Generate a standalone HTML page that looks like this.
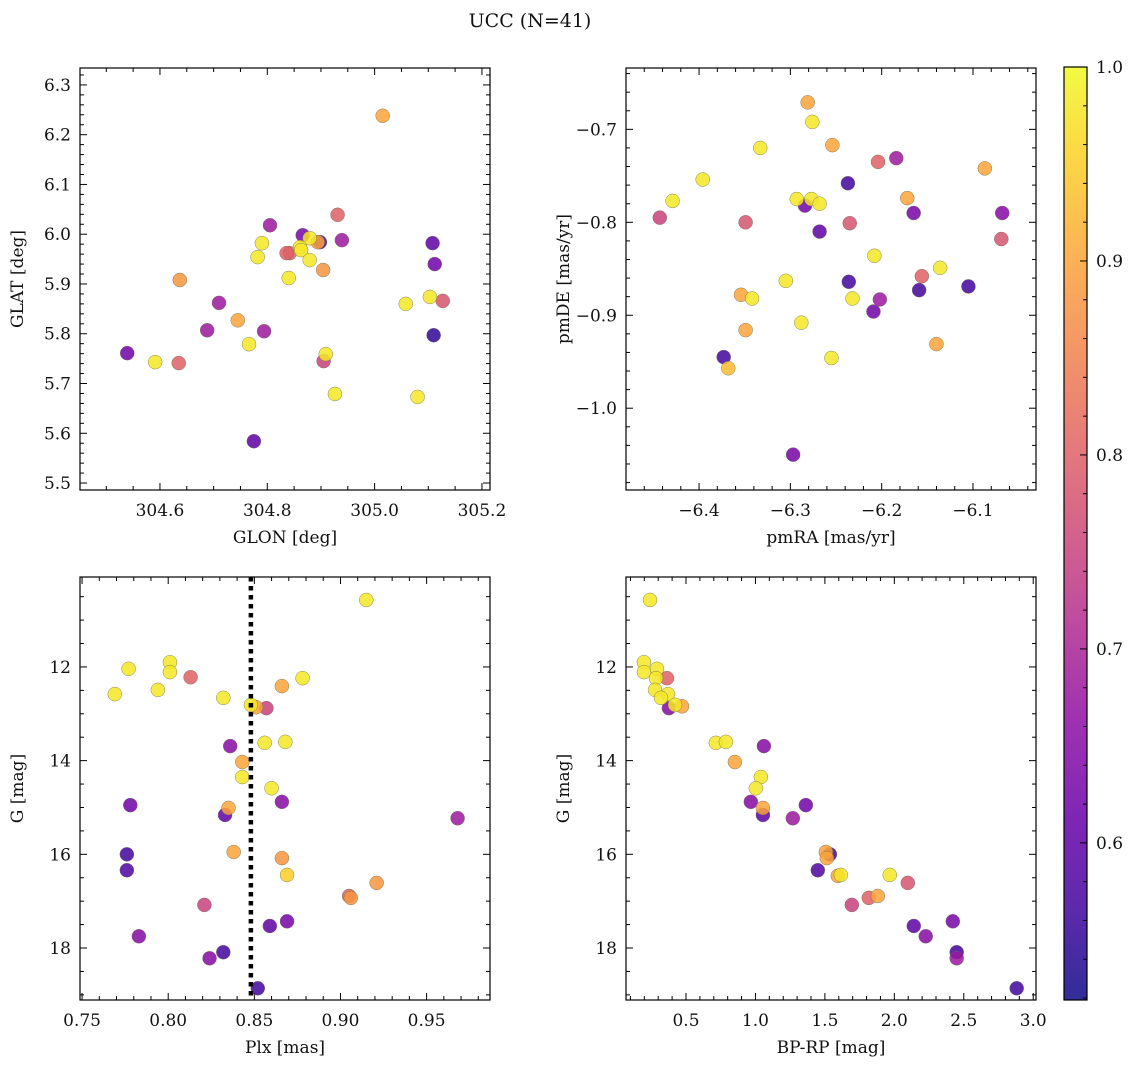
<!DOCTYPE html>
<html><head><meta charset="utf-8">
<style>
body{margin:0;background:#fff;}
svg text{font-family:"DejaVu Serif","Liberation Serif",serif;fill:#111;}
</style></head>
<body>
<svg id="fig" width="1136" height="1067" viewBox="0 0 1136 1067" xmlns="http://www.w3.org/2000/svg">
<rect width="1136" height="1067" fill="#fff"/>
<text x="530" y="27" font-size="19" text-anchor="middle">UCC (N=41)</text>
</svg>
<script>
// Panel 1: GLON vs GLAT
const glon1 = [305.015,304.931,304.805,304.790,304.939,304.866,304.879,304.894,304.898,304.861,304.842,304.836,304.863,304.782,304.879,305.108,305.112,304.637,304.840,304.904,304.710,305.103,305.127,305.058,304.688,304.745,304.794,304.766,304.539,304.909,305.110,304.591,304.635,304.905,304.926,305.080,304.775];
const glat1 = [6.238,6.039,6.018,5.982,5.988,5.998,5.992,5.984,5.984,5.974,5.962,5.962,5.968,5.954,5.948,5.982,5.940,5.908,5.912,5.928,5.862,5.874,5.866,5.860,5.807,5.827,5.805,5.779,5.761,5.759,5.797,5.743,5.741,5.745,5.679,5.673,5.584];
const prob1 = [0.9,0.8,0.68,0.98,0.68,0.63,0.98,0.9,0.57,0.98,0.8,0.8,0.98,0.98,0.98,0.6,0.62,0.88,0.98,0.88,0.68,0.98,0.78,0.98,0.68,0.9,0.68,0.98,0.62,0.98,0.55,0.98,0.8,0.75,0.98,0.98,0.6];
// Panel 2: pmRA vs pmDE
const pmra2 = [-6.281,-6.276,-6.333,-6.254,-6.184,-6.204,-6.396,-6.087,-6.237,-6.429,-6.293,-6.277,-6.268,-6.284,-6.172,-6.443,-6.165,-6.068,-6.349,-6.235,-6.268,-6.069,-6.208,-6.305,-6.236,-6.136,-6.156,-6.159,-6.105,-6.354,-6.342,-6.232,-6.202,-6.209,-6.288,-6.349,-6.140,-6.373,-6.255,-6.368,-6.297];
const pmde2 = [-0.671,-0.692,-0.720,-0.717,-0.731,-0.735,-0.754,-0.742,-0.758,-0.777,-0.775,-0.775,-0.780,-0.782,-0.774,-0.795,-0.790,-0.790,-0.800,-0.801,-0.810,-0.818,-0.836,-0.863,-0.864,-0.849,-0.858,-0.873,-0.869,-0.878,-0.882,-0.882,-0.883,-0.896,-0.908,-0.916,-0.931,-0.945,-0.946,-0.957,-1.050];
const prob2 = [0.9,0.98,0.98,0.9,0.68,0.8,0.98,0.9,0.57,0.98,0.98,0.98,0.98,0.62,0.9,0.75,0.63,0.65,0.78,0.78,0.6,0.78,0.98,0.98,0.57,0.98,0.8,0.57,0.57,0.9,0.98,0.98,0.68,0.62,0.98,0.9,0.9,0.57,0.98,0.93,0.63];
// Panel 3: Plx vs G
const plx3 = [0.915,0.801,0.777,0.801,0.813,0.878,0.866,0.769,0.794,0.832,0.848,0.851,0.857,0.836,0.856,0.868,0.843,0.843,0.860,0.778,0.866,0.835,0.833,0.968,0.838,0.776,0.866,0.776,0.921,0.869,0.905,0.906,0.821,0.783,0.869,0.859,0.832,0.824,0.852];
const gmag3 = [10.57,11.90,12.04,12.11,12.22,12.24,12.41,12.58,12.49,12.66,12.81,12.86,12.88,13.69,13.62,13.60,14.03,14.35,14.59,14.95,14.88,15.01,15.16,15.23,15.95,16.00,16.08,16.34,16.61,16.44,16.89,16.93,17.08,17.75,17.43,17.53,18.09,18.22,18.86];
const prob3 = [0.98,0.98,0.98,0.98,0.8,0.98,0.9,0.98,0.98,0.98,0.98,0.9,0.75,0.65,0.98,0.98,0.9,0.98,0.98,0.62,0.65,0.9,0.6,0.68,0.9,0.57,0.88,0.58,0.88,0.95,0.8,0.88,0.75,0.65,0.63,0.6,0.57,0.65,0.57];
const plxMean = 0.848;
// Panel 4: BP-RP vs G
const bprp4 = [0.241,0.197,0.197,0.291,0.284,0.363,0.277,0.370,0.320,0.471,0.421,0.377,0.715,0.787,1.061,0.852,1.039,1.003,0.967,1.054,1.054,1.269,1.363,1.507,1.536,1.514,1.449,1.593,1.615,1.967,1.881,1.816,2.097,1.694,2.421,2.140,2.226,2.449,2.449,2.881];
const gmag4 = [10.57,11.90,12.11,12.04,12.24,12.24,12.49,12.58,12.66,12.84,12.81,12.88,13.62,13.60,13.69,14.03,14.35,14.59,14.88,15.01,15.16,15.23,14.95,15.95,16.00,16.08,16.34,16.46,16.44,16.44,16.89,16.93,16.61,17.08,17.43,17.53,17.75,18.09,18.22,18.86];
const prob4 = [0.98,0.98,0.98,0.98,0.98,0.8,0.98,0.98,0.98,0.9,0.98,0.65,0.98,0.98,0.65,0.9,0.98,0.98,0.65,0.9,0.6,0.68,0.62,0.9,0.57,0.9,0.58,0.9,0.98,0.98,0.9,0.8,0.78,0.75,0.63,0.6,0.65,0.57,0.68,0.57];
// Colorbar
const cbTicks = [0.6,0.7,0.8,0.9,1.0];
const cbMin = 0.519, cbMax = 1.0;

const NS = "http://www.w3.org/2000/svg";
const svg = document.getElementById('fig');
function el(tag, attrs, parent){const e=document.createElementNS(NS,tag);for(const k in attrs)e.setAttribute(k,attrs[k]);(parent||svg).appendChild(e);return e;}
const stops=[[0,13,8,135],[0.1,65,4,157],[0.2,106,0,168],[0.3,143,13,164],[0.4,177,42,144],[0.5,204,71,120],[0.6,225,100,98],[0.7,242,132,75],[0.8,252,166,54],[0.9,252,206,37],[1.0,240,249,33]];
function plasma(t){t=Math.max(0,Math.min(1,t));for(let i=1;i<stops.length;i++){if(t<=stops[i][0]){const a=stops[i-1],b=stops[i],f=(t-a[0])/(b[0]-a[0]);return `rgb(${Math.round(a[1]+f*(b[1]-a[1]))},${Math.round(a[2]+f*(b[2]-a[2]))},${Math.round(a[3]+f*(b[3]-a[3]))})`;}}return 'rgb(240,249,33)';}
function pcol(p){return plasma((p-cbMin)/(cbMax-cbMin));}

function panel(cfg){
  const {name,x0,x1,y0,y1,xmin,xmax,ymin,ymax,invertY,xMaj,xMin,yMaj,yMin,xDec,yDec,xlab,ylab,xs,ys,ps}=cfg;
  const g=el('g',{});  
  const sx=v=>x0+(v-xmin)/(xmax-xmin)*(x1-x0);
  const sy=v=>invertY? y0+(v-ymin)/(ymax-ymin)*(y1-y0) : y1-(v-ymin)/(ymax-ymin)*(y1-y0);
  const fmt=(v,d)=>{const s=v.toFixed(d);return s.startsWith('-')?'\u2212'+s.slice(1):s;};
  // ticks
  const tk=el('g',{stroke:'#000','stroke-width':1},g);
   
  const eps=1e-9;
  for(let v=Math.ceil(xmin/xMin-eps)*xMin; v<=xmax+eps; v+=xMin){
    const isMaj=Math.abs(v/xMaj-Math.round(v/xMaj))<1e-6; const L=isMaj?7:4; const X=sx(v);
    el('line',{x1:X,x2:X,y1:y1,y2:y1-L},tk); el('line',{x1:X,x2:X,y1:y0,y2:y0+L},tk);
    if(isMaj){const t=el('text',{x:X,y:y1+26,'font-size':17,'text-anchor':'middle'},g);t.textContent=fmt(Math.round(v/xMaj)*xMaj,xDec);}
  }
  for(let v=Math.ceil(ymin/yMin-eps)*yMin; v<=ymax+eps; v+=yMin){
    const isMaj=Math.abs(v/yMaj-Math.round(v/yMaj))<1e-6; const L=isMaj?7:4; const Y=sy(v);
    el('line',{x1:x0,x2:x0+L,y1:Y,y2:Y},tk); el('line',{x1:x1,x2:x1-L,y1:Y,y2:Y},tk);
    if(isMaj){const t=el('text',{x:x0-9,y:Y+6,'font-size':17,'text-anchor':'end'},g);t.textContent=fmt(Math.round(v/yMaj)*yMaj,yDec);}
  }
  // points
  const pts=el('g',{},g);  
  const order=xs.map((_,i)=>i).sort((a,b)=>ps[a]-ps[b]);
  order.forEach(i=>{const c=el('circle',{cx:sx(xs[i]),cy:sy(ys[i]),r:7,fill:pcol(ps[i]),'fill-opacity':0.85,stroke:'#6b6b55','stroke-width':0.5,'stroke-opacity':0.8},pts);
     });
  if(cfg.vline!==undefined){const l=el('line',{x1:sx(cfg.vline),x2:sx(cfg.vline),y1:y0,y2:y1,stroke:'#000','stroke-width':4.5,'stroke-dasharray':'4.5,4.5'},g);}
  const fr=el('rect',{x:x0,y:y0,width:x1-x0,height:y1-y0,fill:'none',stroke:'#000','stroke-width':1.2},g);
   
  const xl=el('text',{x:(x0+x1)/2,y:y1+53,'font-size':17,'text-anchor':'middle'},g);xl.textContent=xlab;
   
  const yl=el('text',{x:0,y:0,'font-size':17,'text-anchor':'middle',transform:`translate(${x0-57},${(y0+y1)/2}) rotate(-90)`},g);yl.textContent=ylab;
   
}
panel({name:'glon-glat-panel',x0:80,x1:490,y0:68,y1:490,xmin:304.451,xmax:305.215,ymin:5.486,ymax:6.334,xMaj:0.2,xMin:0.05,yMaj:0.1,yMin:0.02,xDec:1,yDec:1,xlab:'GLON [deg]',ylab:'GLAT [deg]',xs:glon1,ys:glat1,ps:prob1});
panel({name:'pm-panel',x0:626,x1:1036,y0:68,y1:490,xmin:-6.480,xmax:-6.031,ymin:-1.088,ymax:-0.634,xMaj:0.1,xMin:0.02,yMaj:0.1,yMin:0.02,xDec:1,yDec:1,xlab:'pmRA [mas/yr]',ylab:'pmDE [mas/yr]',xs:pmra2,ys:pmde2,ps:prob2});
panel({name:'plx-g-panel',x0:80,x1:490,y0:577,y1:1000,xmin:0.7488,xmax:0.9868,ymin:10.08,ymax:19.11,invertY:true,xMaj:0.05,xMin:0.01,yMaj:2,yMin:0.5,xDec:2,yDec:0,xlab:'Plx [mas]',ylab:'G [mag]',xs:plx3,ys:gmag3,ps:prob3,vline:plxMean});
panel({name:'cmd-panel',x0:626,x1:1036,y0:577,y1:1000,xmin:0.068,xmax:3.02,ymin:10.08,ymax:19.11,invertY:true,xMaj:0.5,xMin:0.1,yMaj:2,yMin:0.5,xDec:1,yDec:0,xlab:'BP-RP [mag]',ylab:'G [mag]',xs:bprp4,ys:gmag4,ps:prob4});

// colorbar
const cb=el('g',{});  
const defs=el('defs',{},cb); const lg=el('linearGradient',{id:'cbg',x1:0,y1:1,x2:0,y2:0},defs);
for(let i=0;i<=20;i++){const t=i/20;el('stop',{offset:t,'stop-color':plasma(t)},lg);}
const cx0=1064,cx1=1087,cy0=67,cy1=1000;
el('rect',{x:cx0,y:cy0,width:cx1-cx0,height:cy1-cy0,fill:'url(#cbg)','fill-opacity':0.85},cb);
el('rect',{x:cx0,y:cy0,width:cx1-cx0,height:cy1-cy0,fill:'none',stroke:'#000','stroke-width':1.2},cb);
const cy=v=>cy1-(v-cbMin)/(cbMax-cbMin)*(cy1-cy0);
for(let v=0.52;v<=1.0001;v+=0.02){const Y=cy(v);const maj=Math.abs(v*10-Math.round(v*10))<1e-6;el('line',{x1:cx1,x2:cx1-(maj?7:4),y1:Y,y2:Y,stroke:'#000','stroke-width':1},cb);}
cbTicks.forEach(v=>{const t=el('text',{x:cx1+9,y:cy(v)+6,'font-size':17},cb);t.textContent=v.toFixed(1);
   });
</script>
</body></html>
